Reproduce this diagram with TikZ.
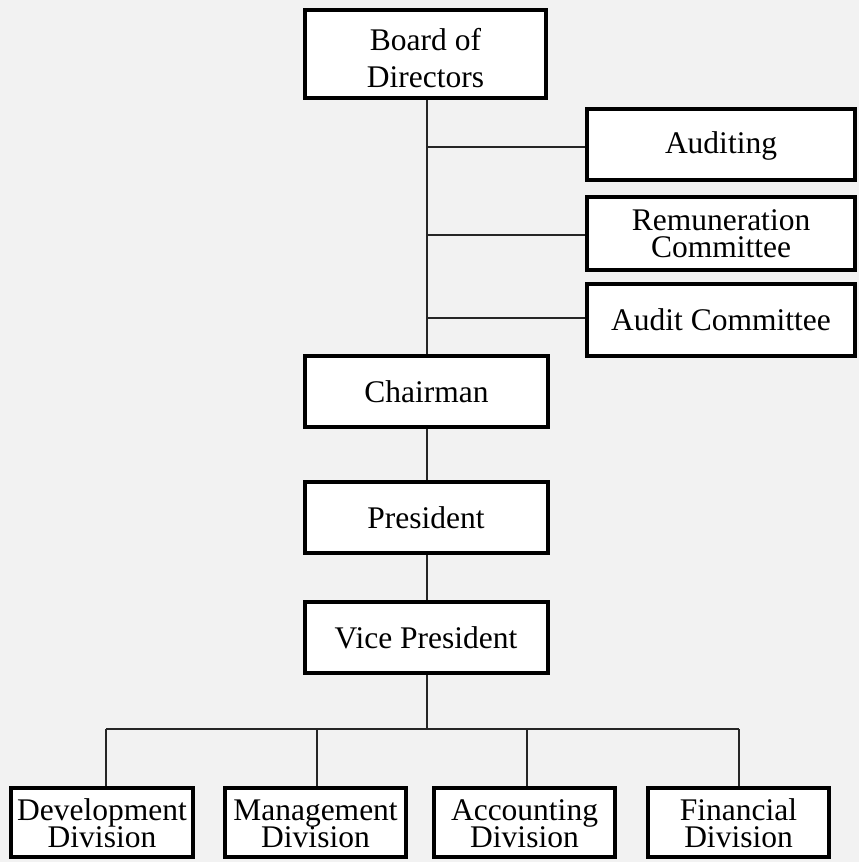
\documentclass[tikz,border=0pt]{standalone}
\usepackage{fontspec}
\setmainfont{Liberation Serif}
\newcommand{\topst}[1]{\rule{0pt}{#1}}
\newcommand{\botst}{\rule[-4pt]{0pt}{4pt}}
\setlength{\lineskiplimit}{-60pt}
\begin{document}
\begin{tikzpicture}[x=1pt,y=-1pt,
  orgbox/.style={draw=black, line width=4pt, fill=white, align=center,
    inner sep=0pt, font=\fontsize{31.5}{27}\selectfont},
  link/.style={draw=black!85, line width=1.3pt}]
\fill[black!5] (0,0) rectangle (859,862);
\useasboundingbox (0,0) rectangle (859,862);
\node[orgbox, minimum width=241pt, minimum height=88pt, font=\fontsize{31.5}{37}\selectfont] (board) at (425.5,54) {\topst{33pt}Board of\\Directors\botst};
\node[orgbox, minimum width=268pt, minimum height=71pt] (auditing) at (721,144.5) {\topst{25pt}Auditing\botst};
\node[orgbox, minimum width=268pt, minimum height=73pt] (remun) at (721,233.5) {\topst{25pt}Remuneration\\Committee\botst};
\node[orgbox, minimum width=268pt, minimum height=72pt] (auditc) at (721,320) {\topst{25pt}Audit Committee\botst};
\node[orgbox, minimum width=243pt, minimum height=71pt] (chair) at (426.5,391.5) {\topst{25pt}Chairman\botst};
\node[orgbox, minimum width=243pt, minimum height=71pt] (pres) at (426,517.5) {\topst{25pt}President\botst};
\node[orgbox, minimum width=243pt, minimum height=71pt] (vp) at (426,637.5) {\topst{25pt}Vice President\botst};
\node[orgbox, minimum width=182pt, minimum height=69pt] (dev) at (102,822.5) {\topst{26pt}Development\\Division\botst};
\node[orgbox, minimum width=181pt, minimum height=69pt] (mgmt) at (315.5,822.5) {\topst{26pt}Management\\Division\botst};
\node[orgbox, minimum width=181pt, minimum height=69pt] (acct) at (524.5,822.5) {\topst{26pt}Accounting\\Division\botst};
\node[orgbox, minimum width=181pt, minimum height=69pt] (fin) at (738.5,822.5) {\topst{26pt}Financial\\Division\botst};
\coordinate (trunk) at (427,100);
\coordinate (j1) at (427,147);
\coordinate (j2) at (427,235);
\coordinate (j3) at (427,318);
\coordinate (hub) at (427,729);
\coordinate (b1) at (106,729);
\coordinate (b2) at (317,729);
\coordinate (b3) at (527,729);
\coordinate (b4) at (739,729);
\draw[link] (board.south -| trunk) -- (chair.north -| trunk);
\draw[link] (j1) -- (j1 -| auditing.west);
\draw[link] (j2) -- (j2 -| remun.west);
\draw[link] (j3) -- (j3 -| auditc.west);
\draw[link] (chair.south -| trunk) -- (pres.north -| trunk);
\draw[link] (pres.south -| trunk) -- (vp.north -| trunk);
\draw[link] (vp.south -| trunk) -- (hub);
\draw[link] (b1) -- (b4);
\draw[link] (b1) -- (b1 |- dev.north);
\draw[link] (b2) -- (b2 |- mgmt.north);
\draw[link] (b3) -- (b3 |- acct.north);
\draw[link] (b4) -- (b4 |- fin.north);
\end{tikzpicture}
\end{document}
